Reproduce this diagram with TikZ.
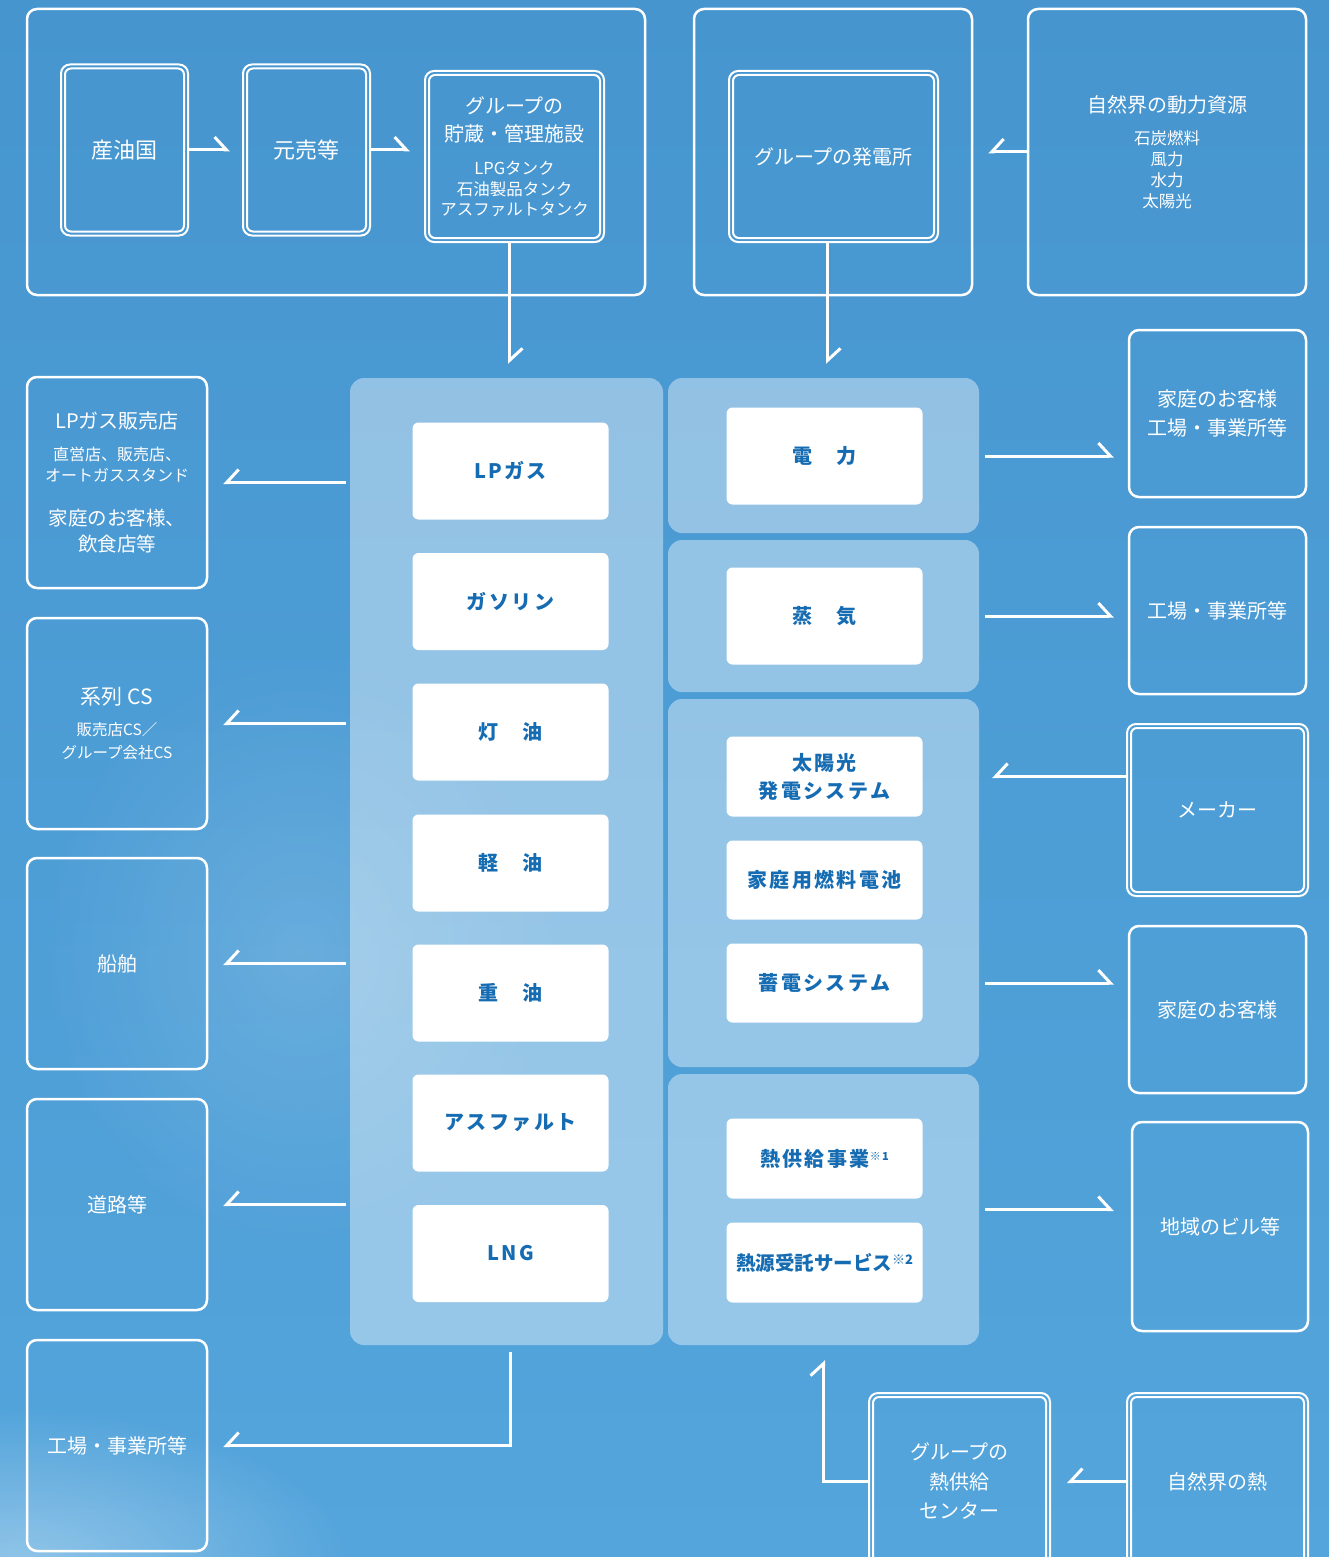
\documentclass[tikz,border=0pt]{standalone}
\usepackage{fontspec}
\setmainfont{Noto Sans CJK JP}
\newfontfamily\itemfont[LetterSpace=12]{Noto Sans CJK JP}
\usetikzlibrary{arrows.meta,fadings}
\definecolor{skytop}{RGB}{70,149,207}
\definecolor{skybot}{RGB}{84,165,220}
\definecolor{itemblue}{RGB}{22,108,178}
\newcommand\fs[2]{\fontsize{#1}{#2}\selectfont}
\tikzfading[name=cloudfade, inner color=transparent!0, outer color=transparent!100]
\tikzset{
  panel/.style={fill=white, fill opacity=0.4, rounded corners=14pt, inner sep=0pt},
  item/.style={fill=white, rounded corners=6pt, text=itemblue, align=center, inner sep=0pt,
    minimum width=196pt, minimum height=97pt, font=\itemfont\bfseries\fs{20}{24}},
  box/.style={draw=white, line width=2.5pt, rounded corners=10pt, text=white, align=center,
    inner sep=0pt, font=\fs{20}{26}},
  dbox/.style={box, line width=2pt, rounded corners=9pt,
    append after command={\pgfextra{\draw[white, line width=2pt, rounded corners=6pt]
      ([xshift=5pt,yshift=-5pt]\tikzlastnode.north west) rectangle
      ([xshift=-5pt,yshift=5pt]\tikzlastnode.south east);}}},
  harp/.style={draw=white, line width=3pt, -{Straight Barb[harpoon, length=12pt, width=26pt]}},
  harpl/.style={draw=white, line width=3pt, -{Straight Barb[harpoon, swap, length=12pt, width=26pt]}},
}
\begin{document}
\begin{tikzpicture}[x=1pt, y=-1pt]
\useasboundingbox (0,0) rectangle (1329,1557);
\shade[top color=skytop, bottom color=skybot] (0,0) rectangle (1329,1557);
% light clouds
\fill[white, opacity=0.35, path fading=cloudfade] (20,1560) ellipse (330pt and 150pt);
\fill[white, opacity=0.15, path fading=cloudfade] (300,950) ellipse (260pt and 300pt);

% top row
\node[box, minimum width=618pt, minimum height=286pt] (supply) at (336,152) {};
\node[dbox, minimum width=127pt, minimum height=171pt, font=\fs{22}{26}] (oil) at (124.5,150) {産油国};
\node[dbox, minimum width=127pt, minimum height=171pt, font=\fs{22}{26}] (moto) at (306.5,150) {元売等};
\node[dbox, minimum width=179pt, minimum height=171pt, font=\fs{16.5}{20}] (store) at (514.5,156.5)
  {\fs{20}{20}グループの\\[8pt] \fs{20}{20}貯蔵・管理施設\\[13pt] LPGタンク\\[1pt] 石油製品タンク\\ アスファルトタンク};
\node[box, minimum width=278pt, minimum height=286pt] (genarea) at (833,152) {};
\node[dbox, minimum width=209pt, minimum height=171pt] (plant) at (833.5,156.5) {グループの発電所};
\node[box, minimum width=278pt, minimum height=286pt, font=\fs{16.5}{21}] (nature) at (1167,152)
  {\fs{20}{21}自然界の動力資源\\[11pt] 石炭燃料\\ 風力\\ 水力\\ 太陽光};

% panels
\node[panel, minimum width=313pt, minimum height=967pt] (oilp) at (506.5,861.5) {};
\node[panel, minimum width=311pt, minimum height=155pt] (elecp) at (823.5,455.5) {};
\node[panel, minimum width=311pt, minimum height=152pt] (steamp) at (823.5,616) {};
\node[panel, minimum width=311pt, minimum height=368pt] (newp) at (823.5,883) {};
\node[panel, minimum width=311pt, minimum height=271pt] (heatp) at (823.5,1209.5) {};

% products
\node[item] (lpg) at (510.5,471) {LPガス};
\node[item] (gas) at (510.5,601.5) {ガソリン};
\node[item] (kero) at (510.5,732) {灯　油};
\node[item] (diesel) at (510.5,863) {軽　油};
\node[item] (heavy) at (510.5,993) {重　油};
\node[item] (asph) at (510.5,1123) {アスファルト};
\node[item] (lng) at (510.5,1253.5) {LNG};
\node[item] (elec) at (824.5,456) {電　力};
\node[item] (steam) at (824.5,616) {蒸　気};
\node[item, minimum height=80pt, font=\itemfont\bfseries\fs{20}{28}] (solar) at (824.5,776.5) {太陽光\\ 発電システム};
\node[item, minimum height=79pt] (fuelcell) at (824.5,880) {家庭用燃料電池};
\node[item, minimum height=79pt] (battery) at (824.5,983) {蓄電システム};
\node[item, minimum height=80pt] (heatsup) at (824.5,1158.5) {熱供給事業\raisebox{6pt}{\fs{11}{11}※1}};
\node[item, minimum height=80pt, font=\bfseries\fs{19.5}{24}] (heatsrc) at (824.5,1262.5) {熱源受託サービス\raisebox{6pt}{\fs{13}{13}※2}};

% customers, left
\node[box, minimum width=180pt, minimum height=211pt, font=\fs{19.5}{21}] (lpshop) at (117,482.5)
  {\fs{20}{21}LPガス販売店\\[11pt] \fs{16}{21}直営店、販売店、\\ \fs{16}{21}オートガススタンド\\[23pt] 家庭のお客様、\\[5pt] 飲食店等};
\node[box, minimum width=180pt, minimum height=211pt, font=\fs{15.5}{23}] (cs) at (117,723.5)
  {\fs{21}{23}系列 CS\\[8pt] 販売店CS／\\ グループ会社CS};
\node[box, minimum width=180pt, minimum height=211pt] (ship) at (117,963.5) {船舶};
\node[box, minimum width=180pt, minimum height=211pt] (road) at (117,1204.5) {道路等};
\node[box, minimum width=180pt, minimum height=211pt] (factory) at (117,1445.5) {工場・事業所等};

% customers, right
\node[box, minimum width=177pt, minimum height=167pt, font=\fs{20}{29}] (cust1) at (1217.5,413.5) {家庭のお客様\\ 工場・事業所等};
\node[box, minimum width=177pt, minimum height=167pt] (fact2) at (1217.5,610.5) {工場・事業所等};
\node[dbox, minimum width=181pt, minimum height=172pt] (maker) at (1217.5,810) {メーカー};
\node[box, minimum width=177pt, minimum height=167pt] (home) at (1217.5,1009.5) {家庭のお客様};
\node[box, minimum width=176pt, minimum height=209pt] (bldg) at (1220,1226.5) {地域のビル等};
\node[dbox, minimum width=181pt, minimum height=177pt] (natheat) at (1217.5,1481.5) {自然界の熱};
\node[dbox, minimum width=181pt, minimum height=177pt, font=\fs{20}{29.5}] (heatctr) at (959.5,1481.5) {グループの\\ 熱供給\\ センター};

% arrows, top
\draw[harp, shorten >=12pt] (oil.east) -- (moto.west);
\draw[harp, shorten >=14pt] (moto.east) -- (moto.east -| store.west);
\draw[harp, shorten >=14pt] ([xshift=-5pt]store.south) -- ([xshift=-5pt]store.south |- oilp.north);
\draw[harp, shorten >=14pt] ([xshift=-6pt]plant.south) -- ([xshift=-6pt]plant.south |- elecp.north);
\draw[harpl, shorten >=15pt] (nature.west) -- (genarea.east);

% arrows, oil products
\draw[harpl, shorten <=4pt, shorten >=15pt] (oilp.west |- lpshop.east) -- (lpshop.east);
\draw[harpl, shorten <=4pt, shorten >=15pt] (oilp.west |- cs.east) -- (cs.east);
\draw[harpl, shorten <=4pt, shorten >=15pt] (oilp.west |- ship.east) -- (ship.east);
\draw[harpl, shorten <=4pt, shorten >=15pt] (oilp.west |- road.east) -- (road.east);
\draw[harpl, shorten <=7pt, shorten >=15pt] (oilp.south -| lng.south) |- (factory.east);

% arrows, power and heat
\draw[harp, shorten <=6pt, shorten >=14pt] (elecp.east |- elec.east) -- (cust1.west |- elec.east);
\draw[harp, shorten <=6pt, shorten >=14pt] (steamp.east |- steam.east) -- (fact2.west |- steam.east);
\draw[harpl, shorten >=13pt] (maker.west |- solar.east) -- (newp.east |- solar.east);
\draw[harp, shorten <=6pt, shorten >=14pt] (newp.east |- battery.east) -- (home.west |- battery.east);
\draw[harp, shorten <=6pt, shorten >=17pt] (heatp.east) -- (bldg.west |- heatp.east);
\draw[harpl, shorten >=16pt] (natheat.west) -- (heatctr.east);
\draw[harp, shorten >=15pt] (heatctr.west) -| (heatp.south);
\end{tikzpicture}
\end{document}
